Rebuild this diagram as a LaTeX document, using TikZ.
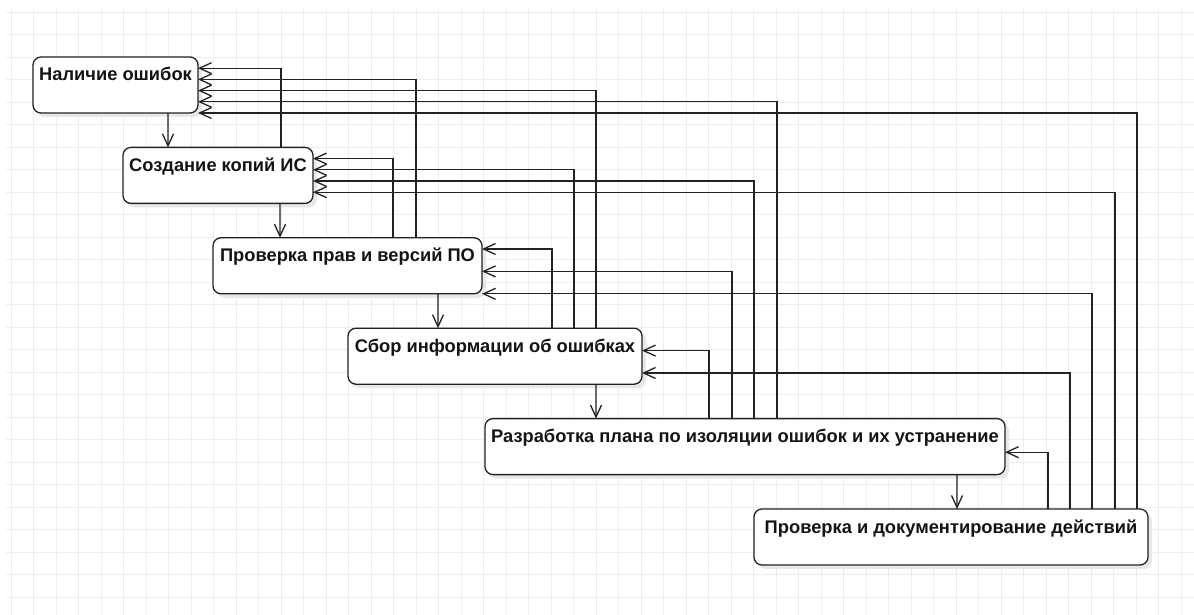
\documentclass[tikz,border=0pt]{standalone}
\usepackage{fontspec}
\setmainfont{Liberation Sans}
\usetikzlibrary{arrows.meta,shadows}
\definecolor{gridc}{HTML}{EDEDED}
\definecolor{linec}{HTML}{222222}
\begin{document}
\begin{tikzpicture}[x=1bp,y=-1bp,
  box/.style={draw=linec, line width=1.3bp, fill=white, rounded corners=8bp, inner sep=0pt, outer sep=0pt,
    anchor=north west, minimum height=56bp,
    general shadow={fill=black!9, shadow xshift=4bp, shadow yshift=-4bp}},
  lbl/.style={font=\bfseries\fontsize{18.3bp}{21bp}\selectfont, text=black!92, anchor=base, inner sep=0pt},
  conn/.style={draw=linec, line width=1.3bp, -{Straight Barb[length=12bp,width=11bp]}},
  gridline/.style={draw=gridc, line width=1bp}
]
\useasboundingbox (0,0) rectangle (1194,615);
\fill[white] (0,0) rectangle (1194,615);
% grid
\foreach \i in {0,...,52} \draw[gridline] ({11+22.5*\i},9) -- ({11+22.5*\i},615);
\foreach \j in {0,...,26} \draw[gridline] (6,{12.3+22.5*\j}) -- (1194,{12.3+22.5*\j});

% boxes
\node[box, minimum width=165bp] (b1) at (33,57) {};
\node[box, minimum width=190bp] (b2) at (123,147.4) {};
\node[box, minimum width=269bp] (b3) at (213,237.8) {};
\node[box, minimum width=294bp] (b4) at (348,328.2) {};
\node[box, minimum width=520bp] (b5) at (485,418.6) {};
\node[box, minimum width=394bp] (b6) at (754,509) {};

\node[lbl] (t1) at ([yshift=-24bp]b1.north) {Наличие ошибок};
\node[lbl] (t2) at ([yshift=-24bp]b2.north) {Создание копий ИС};
\node[lbl] (t3) at ([yshift=-24bp]b3.north) {Проверка прав и версий ПО};
\node[lbl] (t4) at ([yshift=-24bp]b4.north) {Сбор информации об ошибках};
\node[lbl] (t5) at ([yshift=-24bp]b5.north) {Разработка плана по изоляции ошибок и их устранение};
\node[lbl] (t6) at ([yshift=-24bp]b6.north) {Проверка и документирование действий};

% forward arrows
\draw[conn] ([xshift=135bp]b1.south west) -- ([xshift=45bp]b2.north west);
\draw[conn] ([xshift=157bp]b2.south west) -- ([xshift=67bp]b3.north west);
\draw[conn] ([xshift=225bp]b3.south west) -- ([xshift=90bp]b4.north west);
\draw[conn] ([xshift=248bp]b4.south west) -- ([xshift=111bp]b5.north west);
\draw[conn] ([xshift=472bp]b5.south west) -- ([xshift=203bp]b6.north west);

% feedback arrows
\draw[conn] ([xshift=158bp]b2.north west) |- ([yshift=-11.2bp]b1.north east);

\draw[conn] ([xshift=180bp]b3.north west) |- ([yshift=-11.2bp]b2.north east);
\draw[conn] ([xshift=203bp]b3.north west) |- ([yshift=-22.4bp]b1.north east);

\draw[conn] ([xshift=204bp]b4.north west) |- ([yshift=-11.2bp]b3.north east);
\draw[conn] ([xshift=226bp]b4.north west) |- ([yshift=-22.4bp]b2.north east);
\draw[conn] ([xshift=248bp]b4.north west) |- ([yshift=-33.6bp]b1.north east);

\draw[conn] ([xshift=224bp]b5.north west) |- ([yshift=-22.4bp]b4.north east);
\draw[conn] ([xshift=247bp]b5.north west) |- ([yshift=-33.6bp]b3.north east);
\draw[conn] ([xshift=269bp]b5.north west) |- ([yshift=-33.6bp]b2.north east);
\draw[conn] ([xshift=292bp]b5.north west) |- ([yshift=-44.8bp]b1.north east);

\draw[conn] ([xshift=294bp]b6.north west) |- ([yshift=-33.6bp]b5.north east);
\draw[conn] ([xshift=316bp]b6.north west) |- ([yshift=-44.8bp]b4.north east);
\draw[conn] ([xshift=338bp]b6.north west) |- ([yshift=-56bp]b3.north east);
\draw[conn] ([xshift=361bp]b6.north west) |- ([yshift=-44.8bp]b2.north east);
\draw[conn] ([xshift=383bp]b6.north west) |- ([yshift=-56bp]b1.north east);
\end{tikzpicture}
\end{document}
